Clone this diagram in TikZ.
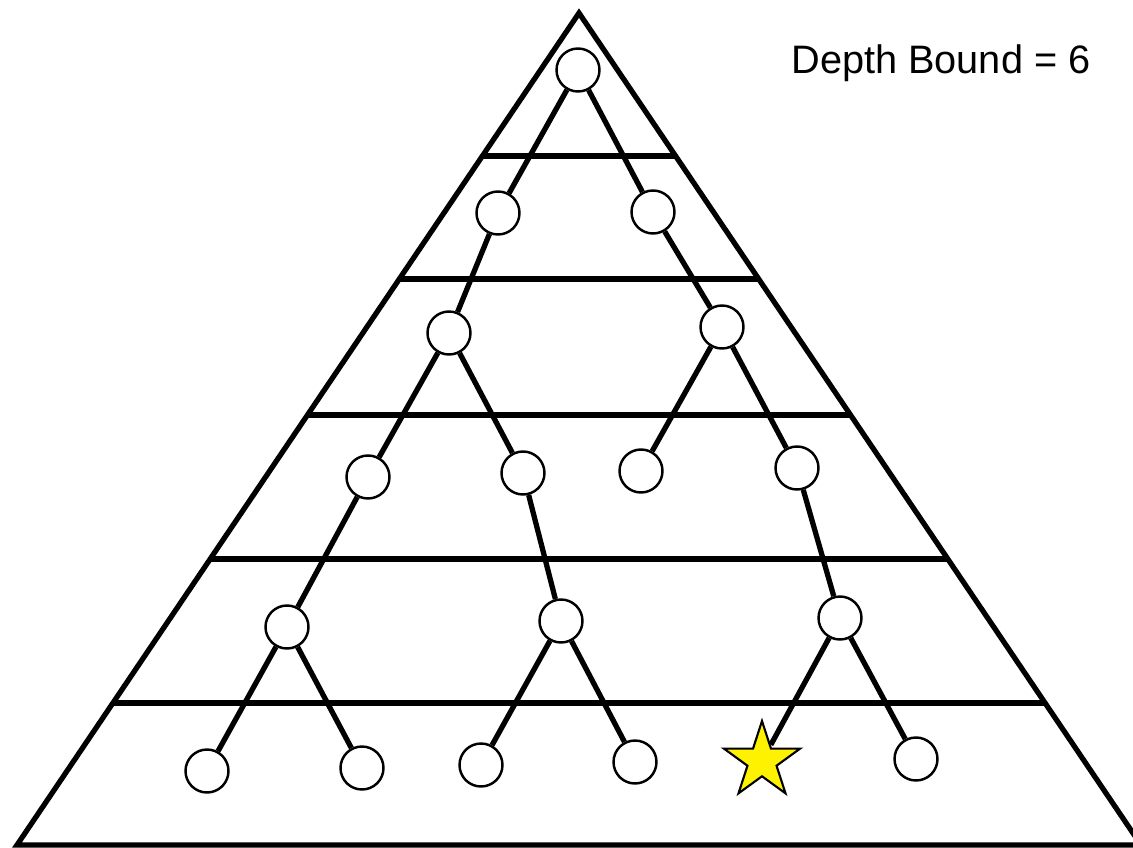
\documentclass[tikz,border=0pt]{standalone}
\usepackage{fontspec}
\setmainfont{Liberation Sans}
\usetikzlibrary{shapes.geometric, calc}

\begin{document}
\begin{tikzpicture}[
    x=0.02cm, y=-0.02cm,
    level/.style={line width=3pt, line join=miter},
    edge/.style={line width=3pt},
    state/.style={draw, circle, fill=white, line width=1.4pt, minimum size=0.86cm, inner sep=0pt},
    goal/.style={draw, star, star points=5, star point ratio=2.618, fill=yellow, line width=1.2pt, minimum size=1.6cm, inner sep=0pt}
]
\useasboundingbox (0,0) rectangle (1133,848);

% search space
\coordinate (top) at (579,13);
\coordinate (bl) at (17,845);
\coordinate (br) at (1141,845);
\draw[level] (top) -- (bl) -- (br) -- cycle;
\foreach \h in {156,279,415,559,703}
    \draw[level] ($(top)!{(\h-13)/832}!(bl)$) -- ($(top)!{(\h-13)/832}!(br)$);

\node[anchor=base west, inner sep=0pt, font=\fontsize{22.6}{27}\selectfont] (bound) at (791,74) {Depth Bound = 6};

% tree
\node[state] (r) at (578,70) {};
\node[state] (a1) at (498,213) {};
\node[state] (a2) at (653,212) {};
\node[state] (b1) at (449,333) {};
\node[state] (b2) at (722,327) {};
\node[state] (c1) at (368,477) {};
\node[state] (c2) at (523,473) {};
\node[state] (c3) at (641,471) {};
\node[state] (c4) at (797,468) {};
\node[state] (d1) at (287,627) {};
\node[state] (d2) at (561,621) {};
\node[state] (d3) at (840,618) {};
\node[state] (e1) at (207,771) {};
\node[state] (e2) at (362,768) {};
\node[state] (e3) at (481,765) {};
\node[state] (e4) at (635,762) {};
\node[goal] (g) at (762,761) {};
\node[state] (e5) at (916,759) {};

\draw[edge] (r) -- (a1);
\draw[edge] (r) -- (a2);
\draw[edge] (a1) -- (b1);
\draw[edge] (a2) -- (b2);
\draw[edge] (b1) -- (c1);
\draw[edge] (b1) -- (c2);
\draw[edge] (b2) -- (c3);
\draw[edge] (b2) -- (c4);
\draw[edge] (c1) -- (d1);
\draw[edge] (c2) -- (d2);
\draw[edge] (c4) -- (d3);
\draw[edge] (d1) -- (e1);
\draw[edge] (d1) -- (e2);
\draw[edge] (d2) -- (e3);
\draw[edge] (d2) -- (e4);
\draw[edge] (d3) -- (g);
\draw[edge] (d3) -- (e5);

\end{tikzpicture}
\end{document}
